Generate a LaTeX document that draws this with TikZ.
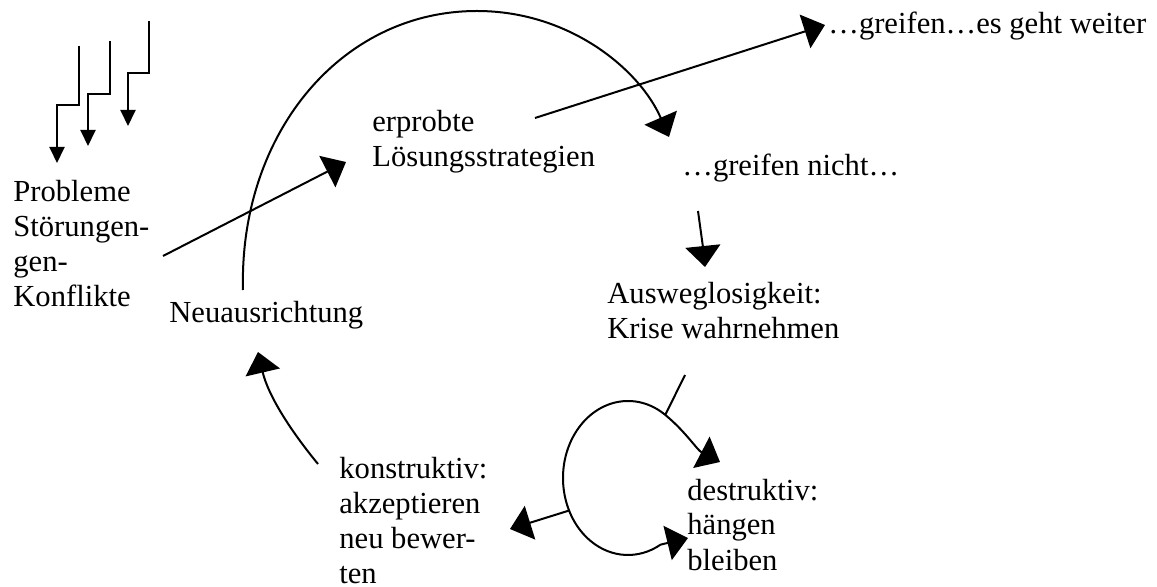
\documentclass[tikz,border=0pt]{standalone}
\usepackage{fontspec}
\setmainfont{Liberation Serif}
\usetikzlibrary{arrows.meta,calc}

\begin{document}
\begin{tikzpicture}[x=.5pt,y=-.5pt,
    txt/.style={anchor=base west,inner sep=0pt,align=left,
      font=\fontsize{15.3}{17.5}\selectfont},
    pfeil/.style={line width=1pt,-{Triangle[length=10.5pt,width=17.5pt]}},
    blitz/.style={line width=1pt,-{Triangle[length=8pt,width=7.5pt]}}]
    \useasboundingbox (0,0) rectangle (1157,587);
    % texts (base = last line)
    \node[txt] (probleme) at (13,307) {Probleme\\Störungen-\\gen-\\Konflikte};
    \node[txt] (neu) at (169,323) {Neuausrichtung};
    \node[txt] (erprobt) at (372,167) {erprobte\\Lösungsstrategien};
    \node[txt] (weiter) at (828,34) {…greifen…es geht weiter};
    \node[txt] (nicht) at (682,176) {…greifen nicht…};
    \node[txt] (krise) at (607,339) {Ausweglosigkeit:\\Krise wahrnehmen};
    \node[txt] (konstr) at (339,583) {konstruktiv:\\akzeptieren\\neu bewer-\\ten};
    \node[txt] (destr) at (687,570) {destruktiv:\\hängen\\bleiben};
    % points
    \coordinate (pa) at (163,256);  \coordinate (pb) at (346,162);
    \coordinate (ea) at (535,118);  \coordinate (eb) at (825,25);
    \coordinate (na) at (243,290);  \coordinate (nt) at (477,11);
    \coordinate (nb) at (669,137);
    \coordinate (ga) at (698,211);  \coordinate (gb) at (705,267);
    \coordinate (ka) at (685,375);  \coordinate (loop) at (628,478);
    \coordinate (kj) at ($(loop)+(-55:65 and 77)$);
    \coordinate (ua) at (318,464);  \coordinate (ub) at (258,352);
    \coordinate (konb) at (510,529);
    \coordinate (hoch) at (720,462); \coordinate (tief) at (688,538);
    % arrows
    \foreach \i/\xa/\xb/\ya/\yb/\yc in {1/79/57/46/105/163,2/110/88/41/94/146,3/149/128/21/73/126}{
      \coordinate (s\i) at (\xa,\ya);
      \coordinate (e\i) at (\xb,\yc);
      \draw[blitz] (s\i) |- (\xb,\yb) -- (e\i);
    }
    \draw[pfeil] (pa) -- (pb);
    \draw[pfeil] (ea) -- (eb);
    \draw[pfeil] (na) .. controls (239,135) and (340,11) .. (nt)
      .. controls (570,11) and (640,70) .. (nb);
    \draw[pfeil] (ga) .. controls (701,228) .. (gb);
    \draw[line width=1pt] (ka) -- (kj);
    \draw[pfeil] (kj) .. controls (686,432) and (697,450) .. (hoch);
    \draw[pfeil] (kj) arc[start angle=-55,end angle=-300,x radius=65,y radius=77] -- (tief);
    \draw[pfeil] (loop) ++(155:65 and 77) -- (konb);
    \draw[pfeil] (ua) .. controls (290,430) and (268,395) .. (ub);
\end{tikzpicture}
\end{document}
